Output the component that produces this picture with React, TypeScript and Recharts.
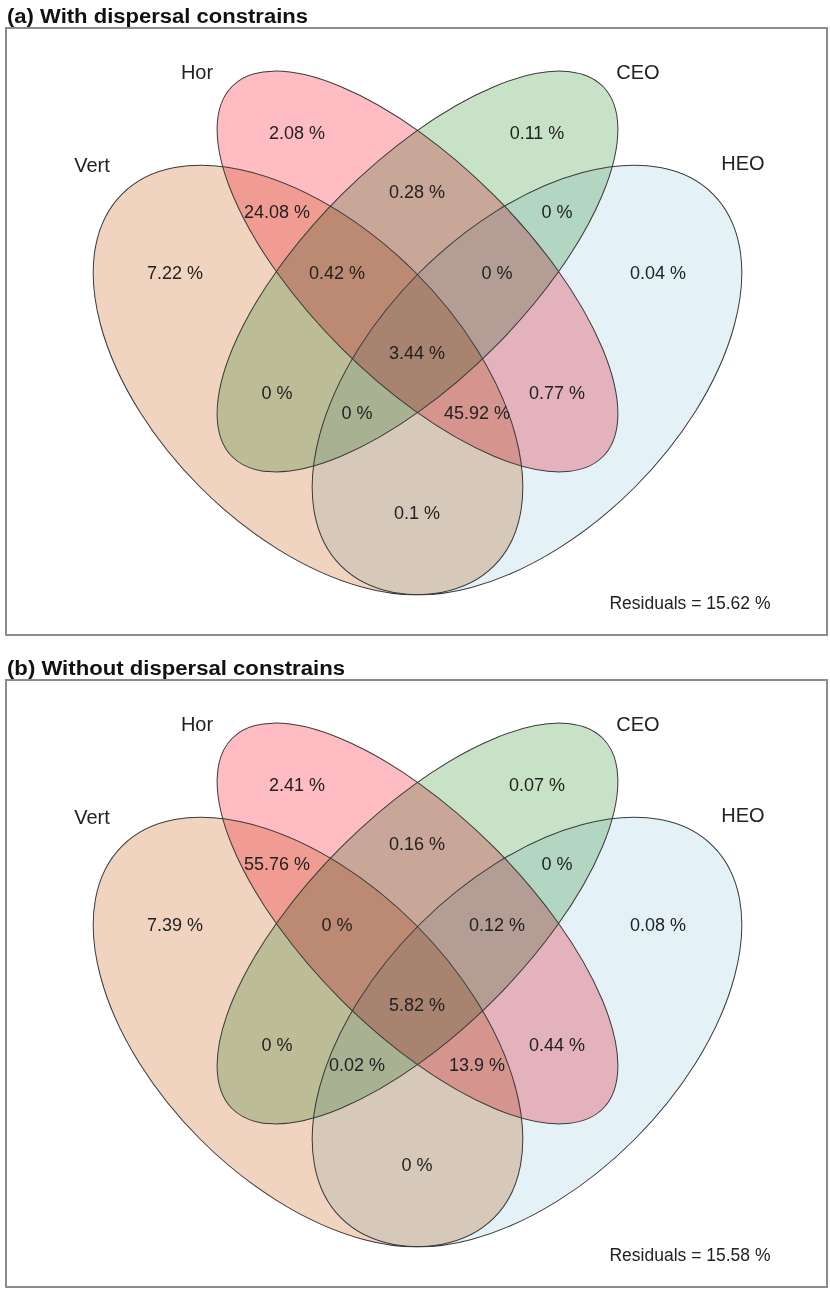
import React from 'react';
import { ScatterChart, Scatter, XAxis, YAxis } from 'recharts';

// variance partitioning, 4 explanatory sets
const SETS = ['Vert', 'Hor', 'CEO', 'HEO'];
const SET_COLORS = ['#F0D4C0', '#FFBCC2', '#C8E2C8', '#E4F2F8'];

// ellipse layout of the diagram (box units)
const SET_CX = [302, 411.5, 411.5, 521];
const SET_CY = [352, 243.5, 243.5, 352];
const SET_RX = [263, 262, 262, 263];
const SET_RY = [152, 108, 108, 152];
const SET_TILT = [45, 45, -45, -45];
const SET_LABEL_X = [86, 191, 632, 737];
const SET_LABEL_Y = [137, 44, 44, 135];

// fractions, one per region of the diagram
const REGIONS = [
  'Hor', 'Vert+Hor', 'Vert', 'Vert+Hor+CEO', 'Vert+CEO', 'Vert+CEO+HEO', 'All',
  'Hor+CEO', 'CEO', 'CEO+HEO', 'Hor+CEO+HEO', 'HEO', 'Hor+HEO', 'Vert+Hor+HEO', 'Vert+HEO',
];
const REGION_X = [291, 271, 169, 331, 271, 351, 411, 411, 531, 551, 491, 652, 551, 471, 411];
const REGION_Y = [105, 184, 245, 245, 365, 385, 325, 164, 105, 184, 245, 245, 365, 385, 485];

const VALUES_A = [2.08, 24.08, 7.22, 0.42, 0, 0, 3.44, 0.28, 0.11, 0, 0, 0.04, 0.77, 45.92, 0.1];
const VALUES_B = [2.41, 55.76, 7.39, 0, 0, 0.02, 5.82, 0.16, 0.07, 0, 0.12, 0.08, 0.44, 13.9, 0];
const RESIDUAL_A = 15.62;
const RESIDUAL_B = 15.58;

const W = 821;
const H = 607;
const K = W / W; // px per box unit
const FONT = '"Liberation Sans", Arial, Helvetica, sans-serif';

const ellipseData = SETS.map((name, i) => ({
  name, x: SET_CX[i], y: SET_CY[i], rx: SET_RX[i], ry: SET_RY[i], tilt: SET_TILT[i], color: SET_COLORS[i],
}));
const setLabelData = SETS.map((name, i) => ({ name, x: SET_LABEL_X[i], y: SET_LABEL_Y[i] }));

const EllipseFill = (p: any) => (
  <ellipse cx={p.cx} cy={p.cy} rx={p.payload.rx * K} ry={p.payload.ry * K}
    transform={`rotate(${p.payload.tilt} ${p.cx} ${p.cy})`}
    fill={p.payload.color} stroke="none" style={{ mixBlendMode: 'multiply' }} />
);
const EllipseLine = (p: any) => (
  <ellipse cx={p.cx} cy={p.cy} rx={p.payload.rx * K} ry={p.payload.ry * K}
    transform={`rotate(${p.payload.tilt} ${p.cx} ${p.cy})`}
    fill="none" stroke="#3a3a3a" strokeWidth={1} />
);
const TextMark = (size: number) => (p: any) => (
  <text x={p.cx} y={p.cy} dy="0.36em" textAnchor="middle" fontFamily={FONT} fontSize={size} fill="#222">
    {p.payload.text}
  </text>
);

function Panel({ top, title, titleLen, values, residual }:
  { top: number; title: string; titleLen: number; values: number[]; residual: number }) {
  const regionData = REGIONS.map((r, i) => ({ name: r, x: REGION_X[i], y: REGION_Y[i], text: `${values[i]} %` }));
  const labels = setLabelData.map(d => ({ ...d, text: d.name }));
  const resid = [{ x: 684, y: 575, text: `Residuals = ${residual} %` }];
  return (
    <>
      <svg style={{ position: 'absolute', left: 0, top, width: 830, height: 28 }}>
        <text x={7} y={23} fontFamily={FONT} fontWeight="bold" fontSize={20} fill="#111"
          textLength={titleLen} lengthAdjust="spacingAndGlyphs">{title}</text>
      </svg>
      <div style={{ position: 'absolute', left: 5, top: top + 27, width: 823, height: 609,
        border: '2px solid #8c8c8c', boxSizing: 'border-box' }} />
      <div style={{ position: 'absolute', left: 6, top: top + 28 }}>
        <ScatterChart width={W} height={H} margin={{ top: 0, right: 0, bottom: 0, left: 0 }}>
          <XAxis type="number" dataKey="x" domain={[0, W]} hide />
          <YAxis type="number" dataKey="y" domain={[0, H]} reversed hide />
          <Scatter data={ellipseData} shape={EllipseFill} isAnimationActive={false} />
          <Scatter data={ellipseData} shape={EllipseLine} isAnimationActive={false} />
          <Scatter data={regionData} shape={TextMark(18)} isAnimationActive={false} />
          <Scatter data={labels} shape={TextMark(20)} isAnimationActive={false} />
          <Scatter data={resid} shape={TextMark(17.5)} isAnimationActive={false} />
        </ScatterChart>
      </div>
    </>
  );
}

export default function App() {
  return (
    <div style={{ position: 'absolute', left: 0, top: 0, width: 830, height: 1295, background: '#fff' }}>
      <Panel top={0} title="(a) With dispersal constrains" titleLen={301} values={VALUES_A} residual={RESIDUAL_A} />
      <Panel top={652} title="(b) Without dispersal constrains" titleLen={338} values={VALUES_B} residual={RESIDUAL_B} />
    </div>
  );
}
